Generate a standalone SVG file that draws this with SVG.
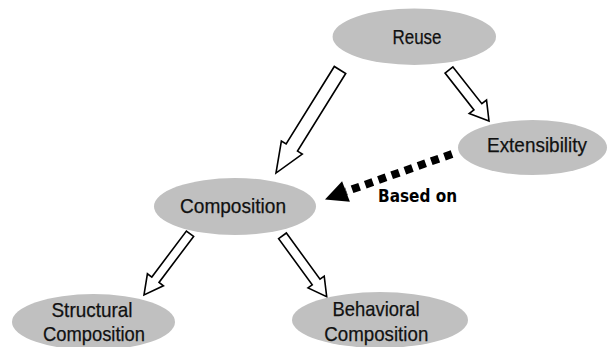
<svg xmlns="http://www.w3.org/2000/svg" width="608" height="347" viewBox="0 0 608 347">
  <style>
    .node { fill: #c0c0c0; }
    .label { font-family: "Liberation Sans", Arial, sans-serif; font-size: 21px; fill: #111; text-anchor: middle; stroke: #111; stroke-width: 0.25; }
    .block { fill: #fff; stroke: #000; stroke-width: 1.6; stroke-linejoin: miter; }
    .dotted { fill: none; stroke: #000; stroke-width: 8; stroke-dasharray: 8 6; }
    .edge-label { font-family: "DejaVu Sans", Verdana, sans-serif; font-weight: bold; font-size: 18px; fill: #000; }
  </style>
  <rect width="608" height="347" fill="#fff"/>

  <!-- connectors -->
  <g id="connectors">
    <!-- Reuse -> Composition -->
    <path class="block" transform="translate(340,70) rotate(121.85)" d="M0,-6.7 H91.3 V-12.3 L121.3,0 L91.3,12.3 V6.7 H0 Z"/>
    <!-- Reuse -> Extensibility -->
    <path class="block" transform="translate(449,70) rotate(51.9)" d="M0,-5 H46.8 V-11 L64.8,0 L46.8,11 V5 H0 Z"/>
    <!-- Composition -> Structural Composition -->
    <path class="block" transform="translate(190,233.7) rotate(126.9)" d="M0,-4.5 H57.6 V-10 L76.6,0 L57.6,10 V4.5 H0 Z"/>
    <!-- Composition -> Behavioral Composition -->
    <path class="block" transform="translate(282.5,235.8) rotate(54)" d="M0,-4.8 H57.2 V-10 L75.2,0 L57.2,10 V4.8 H0 Z"/>
    <!-- Extensibility "Based on" Composition -->
    <line class="dotted" x1="452" y1="154" x2="346" y2="191.5"/>
    <polygon points="325,199.5 349.9,201.8 342.1,181.2" fill="#000"/>
    <text class="edge-label" x="378" y="202" textLength="79" lengthAdjust="spacingAndGlyphs">Based on</text>
  </g>

  <g id="reuse">
    <ellipse class="node" cx="414.3" cy="36.7" rx="81.7" ry="28.3"/>
    <text class="label" x="417" y="44" textLength="49" lengthAdjust="spacingAndGlyphs">Reuse</text>
  </g>

  <g id="extensibility">
    <ellipse class="node" cx="532.5" cy="147.5" rx="74.5" ry="27.5"/>
    <text class="label" x="537" y="152.3" textLength="100" lengthAdjust="spacingAndGlyphs">Extensibility</text>
  </g>

  <g id="composition">
    <ellipse class="node" cx="235" cy="206.5" rx="81" ry="28.5"/>
    <text class="label" x="233" y="213.3" textLength="106" lengthAdjust="spacingAndGlyphs">Composition</text>
  </g>

  <g id="structural-composition">
    <ellipse class="node" cx="93.5" cy="322" rx="81.5" ry="28"/>
    <text class="label" x="92" y="316.7" textLength="81" lengthAdjust="spacingAndGlyphs">Structural</text>
    <text class="label" x="94" y="340.7" textLength="102" lengthAdjust="spacingAndGlyphs">Composition</text>
  </g>

  <g id="behavioral-composition">
    <ellipse class="node" cx="380" cy="320" rx="88" ry="28"/>
    <text class="label" x="376" y="316" textLength="87" lengthAdjust="spacingAndGlyphs">Behavioral</text>
    <text class="label" x="376.3" y="340.7" textLength="104" lengthAdjust="spacingAndGlyphs">Composition</text>
  </g>
</svg>
